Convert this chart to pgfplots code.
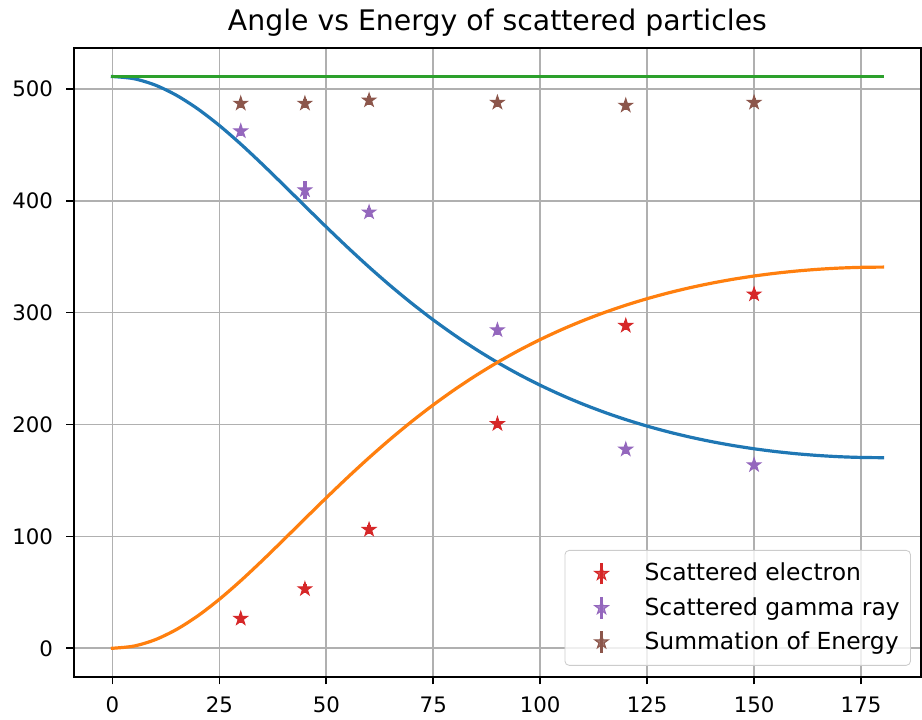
\documentclass[border=0pt]{standalone}
\usepackage{fontspec}
\setmainfont{DejaVu Sans}
\usepackage{pgfplots}
\pgfplotsset{compat=1.18}
\usepackage{pgfplotstable}
\definecolor{c0}{HTML}{1F77B4}
\definecolor{c1}{HTML}{FF7F0E}
\definecolor{c2}{HTML}{2CA02C}
\definecolor{c3}{HTML}{D62728}
\definecolor{c4}{HTML}{9467BD}
\definecolor{c5}{HTML}{8C564B}
\definecolor{gridc}{HTML}{B0B0B0}
\definecolor{legc}{HTML}{CCCCCC}

\pgfdeclareplotmark{fstar}{%
  \pgfpathmoveto{\pgfpointpolar{90}{\pgfplotmarksize}}%
  \pgfpathlineto{\pgfpointpolar{126}{0.382\pgfplotmarksize}}%
  \pgfpathlineto{\pgfpointpolar{162}{\pgfplotmarksize}}%
  \pgfpathlineto{\pgfpointpolar{198}{0.382\pgfplotmarksize}}%
  \pgfpathlineto{\pgfpointpolar{234}{\pgfplotmarksize}}%
  \pgfpathlineto{\pgfpointpolar{270}{0.382\pgfplotmarksize}}%
  \pgfpathlineto{\pgfpointpolar{306}{\pgfplotmarksize}}%
  \pgfpathlineto{\pgfpointpolar{342}{0.382\pgfplotmarksize}}%
  \pgfpathlineto{\pgfpointpolar{18}{\pgfplotmarksize}}%
  \pgfpathlineto{\pgfpointpolar{54}{0.382\pgfplotmarksize}}%
  \pgfpathclose
  \pgfusepathqfillstroke}

\pgfplotstableread{
x y ey
30 26.5 4
45 53.0 4
60 106.0 4
90 200.5 4
120 288.3 4
150 316.4 4
}\electron

\pgfplotstableread{
x y ey
30 462.2 4
45 409.5 8
60 389.7 4
90 284.4 4
120 177.7 4
150 163.8 4
}\gamma

\pgfplotstableread{
x y ey
30 486.9 4
45 486.9 4
60 489.8 4
90 487.7 4
120 485.1 4
150 487.7 4
}\summ

\begin{document}
\begin{tikzpicture}
\begin{axis}[
  name=ax,
  width=397.7pt, height=295.3pt, scale only axis,
  xmin=-9, xmax=189, ymin=-25.55, ymax=536.55,
  xtick={0,25,...,175}, ytick={0,100,...,500},
  grid=major,
  grid style={color=gridc, line width=0.8pt},
  axis line style={line width=0.8pt, black},
  tick style={line width=0.8pt, black},
  tick align=outside, major tick length=3.5pt,
  xtick pos=bottom, ytick pos=left,
  tick label style={font=\fontsize{10}{12}\selectfont},
  xticklabel style={inner sep=0pt, yshift=-5.8pt},
  yticklabel style={xshift=-2.8pt},
  /pgf/number format/assume math mode=true,
  title={Angle vs Energy of scattered particles},
  title style={at={(0.5,1)}, anchor=base, yshift=2pt, inner sep=0pt, font=\fontsize{13.3}{15}\selectfont},
  legend cell align=left,
  legend style={at={(1,0)}, anchor=south east, xshift=-4.7pt, yshift=5.2pt,
    draw=legc, fill=white, fill opacity=0.8, text opacity=1, rounded corners=2pt,
    font=\fontsize{11}{13}\selectfont, row sep=2.2pt, inner xsep=3pt, inner ysep=4pt},
  legend image code/.code={%
    \path (0pt,0pt) (32pt,0pt);
    \draw[#1, mark=none, line width=1.5pt] (14pt,-5pt) -- (14pt,5pt);
    \draw[#1] plot coordinates {(14pt,0pt)};
  },
]
\addplot[color=c0, line width=1.5pt, line cap=rect, smooth, forget plot] coordinates {
(0,511) (5,509.063) (10,503.353) (15,494.160) (20,481.934) (25,467.223)
(30,450.627) (35,432.739) (40,414.115) (45,395.237) (50,376.507) (55,358.238)
(60,340.667) (65,323.954) (70,308.206) (75,293.479) (80,279.793) (85,267.142)
(90,255.5) (95,244.832) (100,235.090) (105,226.225) (110,218.188) (115,210.929)
(120,204.4) (125,198.557) (130,193.357) (135,188.763) (140,184.741) (145,181.261)
(150,178.296) (155,175.825) (160,173.829) (165,172.292) (170,171.200) (175,170.550)
(180,170.333)
};
\addplot[color=c1, line width=1.5pt, line cap=rect, smooth, forget plot] coordinates {
(0,0) (5,1.937) (10,7.647) (15,16.840) (20,29.066) (25,43.777)
(30,60.373) (35,78.261) (40,96.885) (45,115.763) (50,134.493) (55,152.762)
(60,170.333) (65,187.046) (70,202.794) (75,217.521) (80,231.207) (85,243.858)
(90,255.5) (95,266.168) (100,275.910) (105,284.775) (110,292.812) (115,300.071)
(120,306.6) (125,312.443) (130,317.643) (135,322.237) (140,326.259) (145,329.739)
(150,332.704) (155,335.175) (160,337.171) (165,338.708) (170,339.800) (175,340.450)
(180,340.667)
};
\addplot[color=c2, line width=1.5pt, line cap=rect, forget plot] coordinates {(0,511) (180,511)};

\addplot[only marks, mark=fstar, mark size=3.3pt, color=c3,
  mark options={solid, fill=c3, draw=c3, line width=0.5pt},
  error bars/.cd, y dir=both, y explicit, error mark=none,
  error bar style={line width=1.5pt, color=c3}]
  table[x=x, y=y, y error=ey]{\electron};
\addlegendentry{Scattered electron}
\addplot[only marks, mark=fstar, mark size=3.3pt, color=c4,
  mark options={solid, fill=c4, draw=c4, line width=0.5pt},
  error bars/.cd, y dir=both, y explicit, error mark=none,
  error bar style={line width=1.5pt, color=c4}]
  table[x=x, y=y, y error=ey]{\gamma};
\addlegendentry{Scattered gamma ray}
\addplot[only marks, mark=fstar, mark size=3.3pt, color=c5,
  mark options={solid, fill=c5, draw=c5, line width=0.5pt},
  error bars/.cd, y dir=both, y explicit, error mark=none,
  error bar style={line width=1.5pt, color=c5}]
  table[x=x, y=y, y error=ey]{\summ};
\addlegendentry{Summation of Energy}
\end{axis}
\pgfresetboundingbox
\useasboundingbox ([xshift=-34.7pt,yshift=-19.8pt]ax.south west) rectangle ([xshift=0.5pt,yshift=22.5pt]ax.north east);
\end{tikzpicture}
\end{document}
